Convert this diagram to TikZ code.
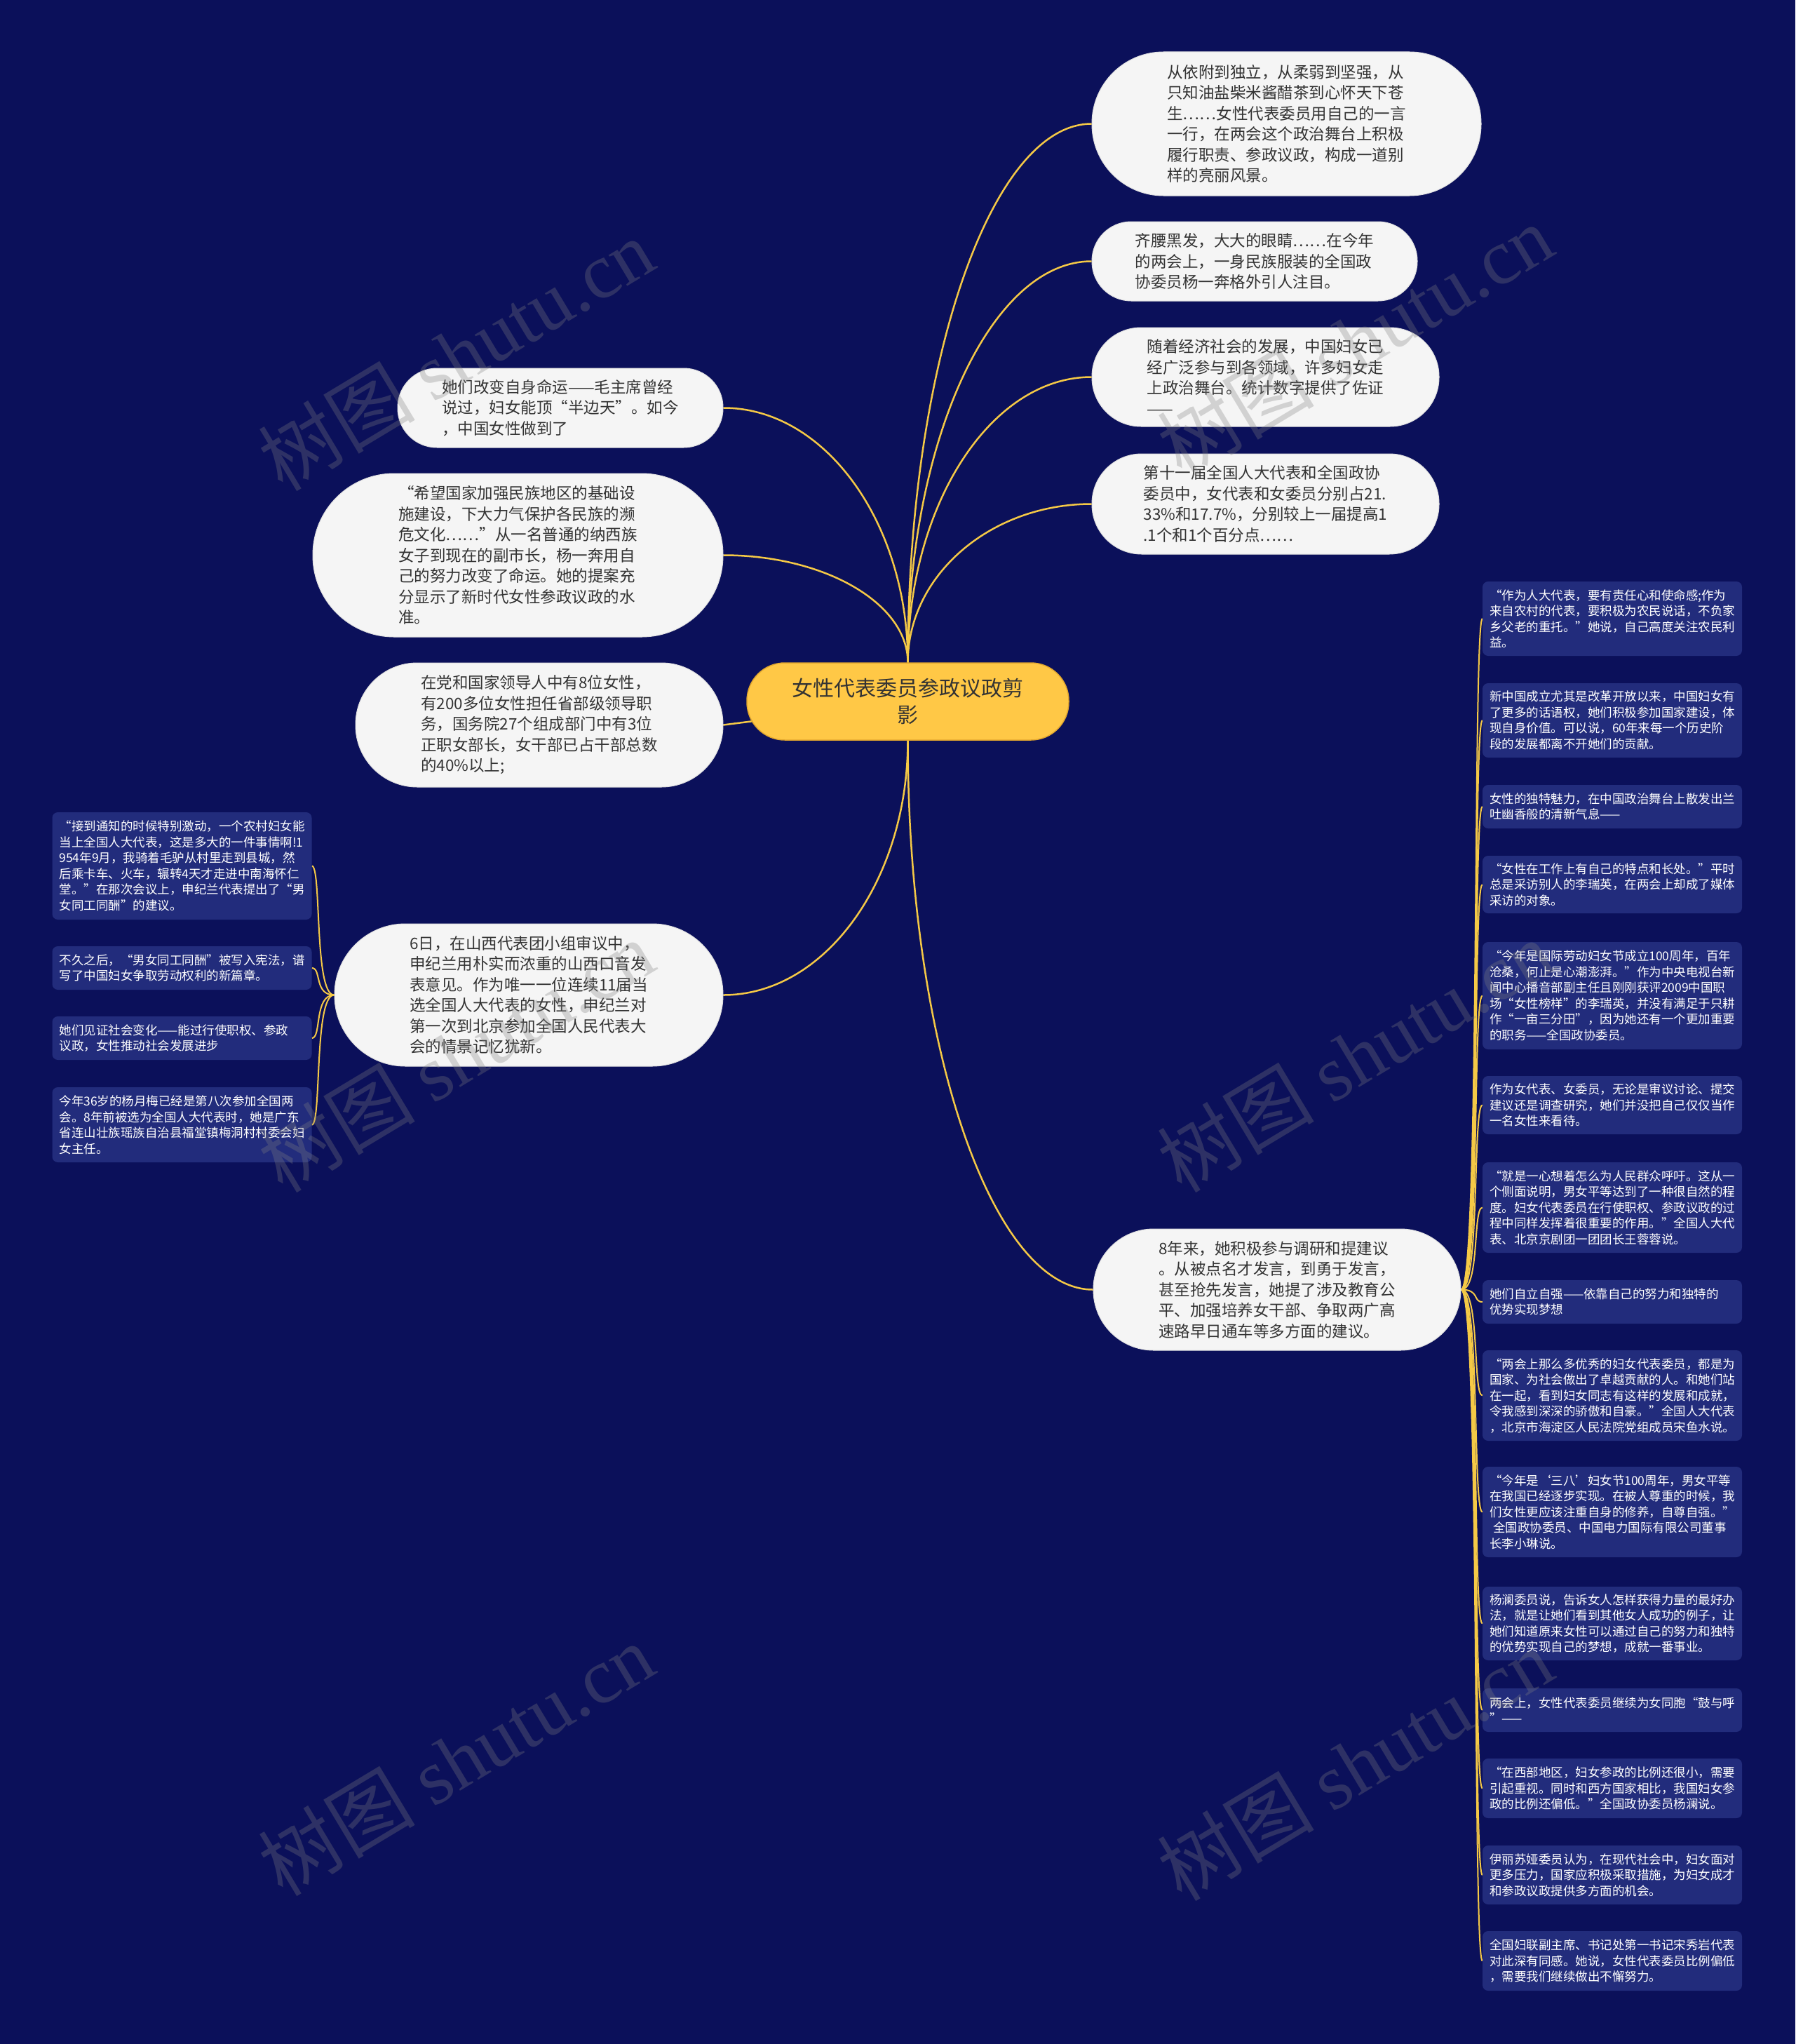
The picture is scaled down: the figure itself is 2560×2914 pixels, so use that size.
\documentclass[tikz,border=0pt]{standalone}
\usepackage{fontspec}
\setmainfont{Noto Sans CJK SC}
\newfontfamily\wmserif{Liberation Serif}
\usetikzlibrary{calc}
\definecolor{bgc}{HTML}{0B105A}
\definecolor{leafc}{HTML}{222C7C}
\definecolor{linec}{HTML}{F5C946}
\definecolor{ctr}{HTML}{FFC846}
\definecolor{ctrb}{HTML}{E2A72E}
\definecolor{pillc}{HTML}{F5F5F5}
\definecolor{txt}{HTML}{333333}
\pgfdeclarelayer{back}
\pgfdeclarelayer{links}
\pgfsetlayers{back,links,main}
\newcommand\mmcurve[2]{\draw[link] (#1) .. controls ($(#1)!0.55!(#1 |- #2)$) and ($(#2)!0.55!(#1 |- #2)$) .. (#2);}
\newcommand\rtwig[2]{\draw[twig] (#1.east) .. controls ($(#1.east)+(27,0)$) and ($(#2.west)+(-14,0)$) .. (#2.west);}
\newcommand\ltwig[2]{\draw[twig] (#1.west) .. controls ($(#1.west)+(-29,0)$) and ($(#2.east)+(14,0)$) .. (#2.east);}
\begin{document}
\begin{tikzpicture}[x=1pt,y=-1pt,
 pill/.style={rectangle, fill=pillc, draw=black!12, line width=1pt, text=txt, align=left, inner sep=0pt, font=\fontsize{22.5}{29.5}\selectfont},
 leaf/.style={rectangle, fill=leafc, text=white, rounded corners=8pt, minimum width=370pt, text width=350pt, align=left, inner sep=0pt, font=\fontsize{17.5}{22.5}\selectfont},
 link/.style={draw=linec, line width=2.5pt},
 twig/.style={draw=linec, line width=2pt},
 wm/.style={text=gray, text opacity=0.3, rotate=31, inner sep=0pt, font=\fontsize{112}{112}\selectfont}
]
\begin{pgfonlayer}{back}
\fill[bgc] (0,0) rectangle (2560,2914);
\end{pgfonlayer}
\useasboundingbox (0,0) rectangle (2560,2914);

% centre
\node[rectangle, fill=ctr, draw=ctrb, line width=1.5pt, rounded corners=54pt, minimum width=459pt, minimum height=110pt, text=txt, align=center, inner sep=0pt, font=\fontsize{30}{38}\selectfont] (c) at (1294.5,1000) {女性代表委员参政议政剪\\影};

% right main topics
\node[pill, minimum width=555pt, minimum height=205pt, rounded corners=102pt] (R1) at (1834.5,176.5) {从依附到独立，从柔弱到坚强，从\\只知油盐柴米酱醋茶到心怀天下苍\\生……女性代表委员用自己的一言\\一行，在两会这个政治舞台上积极\\履行职责、参政议政，构成一道别\\样的亮丽风景。};
\node[pill, minimum width=464pt, minimum height=113pt, rounded corners=56pt] (R2) at (1789,372.5) {齐腰黑发，大大的眼睛……在今年\\的两会上，一身民族服装的全国政\\协委员杨一奔格外引人注目。};
\node[pill, minimum width=495pt, minimum height=141pt, rounded corners=70pt] (R3) at (1804.5,537.5) {随着经济社会的发展，中国妇女已\\经广泛参与到各领域，许多妇女走\\上政治舞台。统计数字提供了佐证\\——};
\node[pill, minimum width=495pt, minimum height=143pt, rounded corners=71pt] (R4) at (1804.5,718.5) {第十一届全国人大代表和全国政协\\委员中，女代表和女委员分别占21.\\33\%和17.7\%，分别较上一届提高1\\.1个和1个百分点……};
\node[pill, minimum width=524pt, minimum height=173pt, rounded corners=86pt] (R5) at (1821,1838.5) {8年来，她积极参与调研和提建议\\。从被点名才发言，到勇于发言，\\甚至抢先发言，她提了涉及教育公\\平、加强培养女干部、争取两广高\\速路早日通车等多方面的建议。};

% left main topics
\node[pill, minimum width=464pt, minimum height=113pt, rounded corners=56pt] (L1) at (799,581.5) {她们改变自身命运——毛主席曾经\\说过，妇女能顶“半边天”。如今\\，中国女性做到了};
\node[pill, minimum width=585pt, minimum height=233pt, rounded corners=116pt] (L2) at (738.5,791.5) {“希望国家加强民族地区的基础设\\施建设，下大力气保护各民族的濒\\危文化……”从一名普通的纳西族\\女子到现在的副市长，杨一奔用自\\己的努力改变了命运。她的提案充\\分显示了新时代女性参政议政的水\\准。};
\node[pill, minimum width=524pt, minimum height=177pt, rounded corners=88pt] (L3) at (769,1033.5) {在党和国家领导人中有8位女性，\\有200多位女性担任省部级领导职\\务，国务院27个组成部门中有3位\\正职女部长，女干部已占干部总数\\的40\%以上;};
\node[pill, minimum width=554pt, minimum height=203pt, rounded corners=101pt] (L4) at (754,1418.5) {6日，在山西代表团小组审议中，\\申纪兰用朴实而浓重的山西口音发\\表意见。作为唯一一位连续11届当\\选全国人大代表的女性，申纪兰对\\第一次到北京参加全国人民代表大\\会的情景记忆犹新。};

% left leaves
\node[leaf, minimum height=153pt] (LL1) at (259.5,1234.5) {“接到通知的时候特别激动，一个农村妇女能\\当上全国人大代表，这是多大的一件事情啊!1\\954年9月，我骑着毛驴从村里走到县城，然\\后乘卡车、火车，辗转4天才走进中南海怀仁\\堂。”在那次会议上，申纪兰代表提出了“男\\女同工同酬”的建议。};
\node[leaf, minimum height=62pt] (LL2) at (259.5,1380) {不久之后，“男女同工同酬”被写入宪法，谱\\写了中国妇女争取劳动权利的新篇章。};
\node[leaf, minimum height=62pt] (LL3) at (259.5,1480) {她们见证社会变化——能过行使职权、参政\\议政，女性推动社会发展进步};
\node[leaf, minimum height=107pt] (LL4) at (259.5,1603.5) {今年36岁的杨月梅已经是第八次参加全国两\\会。8年前被选为全国人大代表时，她是广东\\省连山壮族瑶族自治县福堂镇梅洞村村委会妇\\女主任。};

% right leaves
\node[leaf, minimum height=106pt] (RL1) at (2299,882) {“作为人大代表，要有责任心和使命感;作为\\来自农村的代表，要积极为农民说话，不负家\\乡父老的重托。”她说，自己高度关注农民利\\益。};
\node[leaf, minimum height=106pt] (RL2) at (2299,1027) {新中国成立尤其是改革开放以来，中国妇女有\\了更多的话语权，她们积极参加国家建设，体\\现自身价值。可以说，60年来每一个历史阶\\段的发展都离不开她们的贡献。};
\node[leaf, minimum height=62pt] (RL3) at (2299,1150) {女性的独特魅力，在中国政治舞台上散发出兰\\吐幽香般的清新气息——};
\node[leaf, minimum height=82pt] (RL4) at (2299,1261) {“女性在工作上有自己的特点和长处。”平时\\总是采访别人的李瑞英，在两会上却成了媒体\\采访的对象。};
\node[leaf, minimum height=153pt] (RL5) at (2299,1419.5) {“今年是国际劳动妇女节成立100周年，百年\\沧桑，何止是心潮澎湃。”作为中央电视台新\\闻中心播音部副主任且刚刚获评2009中国职\\场“女性榜样”的李瑞英，并没有满足于只耕\\作“一亩三分田”，因为她还有一个更加重要\\的职务——全国政协委员。};
\node[leaf, minimum height=83pt] (RL6) at (2299,1575.5) {作为女代表、女委员，无论是审议讨论、提交\\建议还是调查研究，她们并没把自己仅仅当作\\一名女性来看待。};
\node[leaf, minimum height=129pt] (RL7) at (2299,1721.5) {“就是一心想着怎么为人民群众呼吁。这从一\\个侧面说明，男女平等达到了一种很自然的程\\度。妇女代表委员在行使职权、参政议政的过\\程中同样发挥着很重要的作用。”全国人大代\\表、北京京剧团一团团长王蓉蓉说。};
\node[leaf, minimum height=62pt] (RL8) at (2299,1856) {她们自立自强——依靠自己的努力和独特的\\优势实现梦想};
\node[leaf, minimum height=129pt] (RL9) at (2299,1989.5) {“两会上那么多优秀的妇女代表委员，都是为\\国家、为社会做出了卓越贡献的人。和她们站\\在一起，看到妇女同志有这样的发展和成就，\\令我感到深深的骄傲和自豪。”全国人大代表\\，北京市海淀区人民法院党组成员宋鱼水说。};
\node[leaf, minimum height=129pt] (RL10) at (2299,2155.5) {“今年是‘三八’妇女节100周年，男女平等\\在我国已经逐步实现。在被人尊重的时候，我\\们女性更应该注重自身的修养，自尊自强。”\\\hspace*{0.3em}全国政协委员、中国电力国际有限公司董事\\长李小琳说。};
\node[leaf, minimum height=105pt] (RL11) at (2299,2314.5) {杨澜委员说，告诉女人怎样获得力量的最好办\\法，就是让她们看到其他女人成功的例子，让\\她们知道原来女性可以通过自己的努力和独特\\的优势实现自己的梦想，成就一番事业。};
\node[leaf, minimum height=62pt] (RL12) at (2299,2438) {两会上，女性代表委员继续为女同胞“鼓与呼\\”——};
\node[leaf, minimum height=85pt] (RL13) at (2299,2549.5) {“在西部地区，妇女参政的比例还很小，需要\\引起重视。同时和西方国家相比，我国妇女参\\政的比例还偏低。”全国政协委员杨澜说。};
\node[leaf, minimum height=84pt] (RL14) at (2299,2673) {伊丽苏娅委员认为，在现代社会中，妇女面对\\更多压力，国家应积极采取措施，为妇女成才\\和参政议政提供多方面的机会。};
\node[leaf, minimum height=85pt] (RL15) at (2299,2795.5) {全国妇联副主席、书记处第一书记宋秀岩代表\\对此深有同感。她说，女性代表委员比例偏低\\，需要我们继续做出不懈努力。};

% connectors
\begin{pgfonlayer}{links}
\mmcurve{c.north}{R1.west}
\mmcurve{c.north}{R2.west}
\mmcurve{c.north}{R3.west}
\mmcurve{c.north}{R4.west}
\mmcurve{c.north}{L1.east}
\mmcurve{c.north}{L2.east}
\draw[link] (c.center) -- (L3.east);
\mmcurve{c.south}{L4.east}
\mmcurve{c.south}{R5.west}
\foreach \k in {1,...,4} {\ltwig{L4}{LL\k}}
\foreach \k in {1,...,15} {\rtwig{R5}{RL\k}}
\end{pgfonlayer}

% watermarks
\node[wm] (w1) at (650,505) {树图 {\wmserif shutu.cn}};
\node[wm] (w2) at (1932,485) {树图 {\wmserif shutu.cn}};
\node[wm] (w3) at (650,1505) {树图 {\wmserif shutu.cn}};
\node[wm] (w4) at (1932,1505) {树图 {\wmserif shutu.cn}};
\node[wm] (w5) at (650,2508) {树图 {\wmserif shutu.cn}};
\node[wm] (w6) at (1932,2515) {树图 {\wmserif shutu.cn}};
\end{tikzpicture}
\end{document}
